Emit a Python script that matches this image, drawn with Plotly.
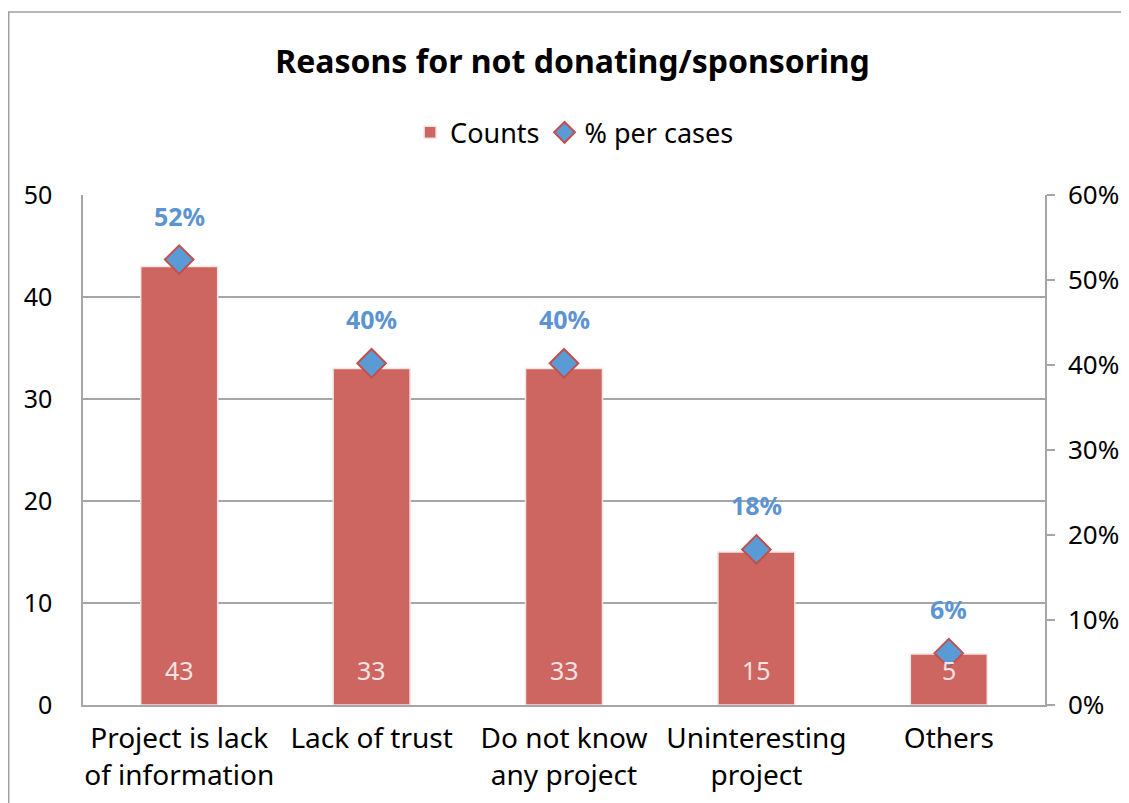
import plotly.graph_objects as go

categories = ["Project is lack<br>of information", "Lack of trust", "Do not know<br>any project",
              "Uninteresting<br>project", "Others"]
counts = [43, 33, 33, 15, 5]
pct_per_cases = [0.524, 0.402, 0.402, 0.183, 0.061]
left_ticks = [0, 10, 20, 30, 40, 50]
right_ticks = [0, 0.1, 0.2, 0.3, 0.4, 0.5, 0.6]

FONT = "Noto Sans"
BAR = "#CD6661"
BLUE = "#5B9BD5"
GRID = "#A6A6A6"

fig = go.Figure()
fig.add_trace(go.Bar(
    x=categories, y=counts, name="Counts", width=0.4,
    marker=dict(color=BAR, line=dict(color="#F4E4E3", width=1.5)),
))
fig.add_trace(go.Scatter(
    x=categories, y=pct_per_cases, name="% per cases", yaxis="y2", mode="markers",
    marker=dict(symbol="diamond", size=22, color=BLUE, line=dict(color="#C0504D", width=2)),
    cliponaxis=False,
))

# value labels: counts near the bar base, percentages above the diamonds
annotations = []
for cat, c in zip(categories, counts):
    annotations.append(dict(x=cat, y=0, xref="x", yref="y", text=str(c), showarrow=False,
                            yanchor="middle", yshift=35,
                            font=dict(color="#F7E3E2", size=25, family=FONT)))
for cat, p in zip(categories, pct_per_cases):
    annotations.append(dict(x=cat, y=p, xref="x", yref="y2", text=f"<b>{p:.0%}</b>", showarrow=False,
                            yanchor="middle", yshift=44,
                            font=dict(color="#5B93D3", size=25, family=FONT)))

# page body has an 8px margin, so margins are shifted by 8px
fig.update_layout(
    width=1129, height=803,
    margin=dict(l=75, r=92, t=187, b=106),
    paper_bgcolor="white", plot_bgcolor="white",
    font=dict(family=FONT, size=25, color="black"),
    title=dict(text="<b>Reasons for not donating/sponsoring</b>", x=0.5, xanchor="center",
               y=0.933, yanchor="middle", font=dict(size=32, family=FONT)),
    legend=dict(orientation="h", x=0.511, xanchor="center", y=1.122, yanchor="middle",
                font=dict(size=27), traceorder="normal"),
    xaxis=dict(showgrid=False, showline=True, linecolor=GRID, linewidth=1.5,
               tickfont=dict(size=28), ticks="", ticklabelstandoff=8, fixedrange=True),
    yaxis=dict(range=[0, 50], tickvals=left_ticks, showgrid=True, gridcolor=GRID, gridwidth=1.5,
               showline=True, linecolor=GRID, linewidth=1.5, ticks="", zeroline=False,
               ticklabelstandoff=24, tickfont=dict(size=25)),
    yaxis2=dict(range=[0, 0.6], tickvals=right_ticks, tickformat=".0%", overlaying="y", side="right",
                showgrid=False, showline=True, linecolor=GRID, linewidth=1.5, ticks="outside",
                ticklen=8, tickcolor=GRID, tickwidth=1.5, zeroline=False, ticklabelstandoff=8,
                tickfont=dict(size=26)),
    annotations=annotations,
    shapes=[dict(type="rect", xref="paper", yref="paper", x0=-0.0772, x1=1.2, y0=-0.4, y1=1.3588,
                 line=dict(color="#A0A0A0", width=1.5), fillcolor="rgba(0,0,0,0)", layer="below")],
)

fig.write_html("out.html")
